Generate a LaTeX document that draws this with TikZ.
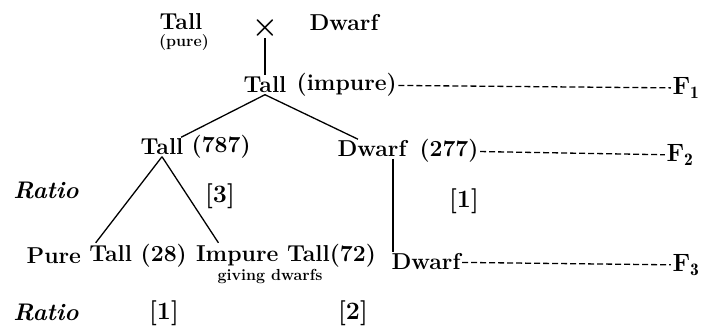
\documentclass[tikz,border=0pt]{standalone}
\usepackage{fontspec}
\usepackage{amsmath}
\usepackage{tikz}
\usetikzlibrary{positioning}

\begin{document}
\begin{tikzpicture}[x=1pt,y=-1pt,line width=1.3pt,
    lab/.style={font=\fontsize{23}{25}\selectfont\bfseries,inner sep=1pt},
    sm/.style={font=\fontsize{16}{18}\selectfont\bfseries,inner sep=1pt},
    rat/.style={font=\fontsize{24}{26}\selectfont\bfseries\itshape,inner sep=1pt},
    brk/.style={font=\fontsize{25}{27}\selectfont\bfseries,inner sep=1pt},
    flab/.style={font=\fontsize{25}{27}\selectfont\bfseries,inner sep=1pt},
    gen/.style={dashed,dash pattern=on 6pt off 3pt}]
\useasboundingbox (0,0) rectangle (701,331);
\node[lab] (tp) at (181,22) {Tall};
\node[sm] (pure) at (184,43) {(pure)};
\node[lab,font=\fontsize{30}{30}\selectfont\bfseries] (cross) at (265,28) {×};
\node[lab] (dp) at (344,23) {Dwarf};
\node[lab] (t1) at (265,85) {Tall};
\node[lab,right=7pt of t1] (imp) {(impure)};
\node[flab] (f1) at (686,88) {F$_{\mathbf 1}$};
\node[lab] (t2) at (162,147) {Tall};
\node[lab,right=5pt of t2] (n787) {(787)};
\node[lab] (d2) at (372,149) {Dwarf};
\node[lab] (n277) at (449,151) {(277)};
\node[flab] (f2) at (680,155) {F$_{\mathbf 2}$};
\node[rat] (r1) at (46,190) {Ratio};
\node[brk] (b3) at (220,196) {[3]};
\node[brk] (b1a) at (464,201) {[1]};
\node[lab] (it) at (286,256) {Impure Tall(72)};
\node[lab,left=6pt of it] (t28) {Tall (28)};
\node[lab,left=5pt of t28] (pu) {Pure};
\node[sm] (gd) at (270,277) {giving dwarfs};
\node[lab] (d3) at (426,262) {Dwarf};
\node[flab] (f3) at (686,265) {F$_{\mathbf 3}$};
\node[rat] (r2) at (46,312) {Ratio};
\node[brk] (b1b) at (164,313) {[1]};
\node[brk] (b2) at (353,313) {[2]};
\draw (cross) -- (t1);
\draw (t1.south) -- ([xshift=-4pt]t2.north east);
\draw (t1.south) -- ([xshift=-14pt]d2.north);
\draw (t2.south) -- ([xshift=8pt]t28.north west);
\draw (t2.south) -- ([xshift=24pt]it.north west);
\draw ([xshift=21pt]d2.south) -- ([xshift=-33pt]d3.north);
\draw[gen] (imp) -- (f1);
\draw[gen] (n277) -- (f2);
\draw[gen] (d3) -- (f3);
\end{tikzpicture}
\end{document}
